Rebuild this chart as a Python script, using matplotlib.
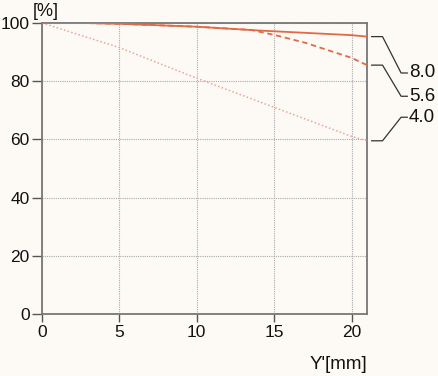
from matplotlib import pyplot as plt

x_80 = [0, 2.5, 5, 10, 14, 17, 20, 21]
y_80 = [100, 100, 99.7, 98.7, 97.4, 96.6, 95.8, 95.3]
x_56 = [0, 2.5, 5, 10, 13.5, 15, 17, 20, 21]
y_56 = [100, 100, 99.7, 98.7, 97.6, 95.9, 93.2, 88.0, 85.5]
x_40 = [0, 5, 10, 15, 20, 21]
y_40 = [100, 91.5, 81.0, 71.0, 61.0, 59.5]
labels = ["8.0", "5.6", "4.0"]
label_y = [82.8, 74.8, 67.6]

bg = "#fdfaf6"
red = "#df6a48"
plt.rcParams['font.family'] = ['Liberation Sans', 'DejaVu Sans']

fig = plt.figure(figsize=(4.38, 3.76), dpi=100, facecolor=bg)
ax = fig.add_axes([0.096, 0.165, 0.742, 0.774], facecolor=bg)

ax.plot(x_40, y_40, color="#e9a597", lw=1.1, linestyle=(0, (1, 1.5)), zorder=3)
ax.plot(x_56, y_56, color=red, lw=1.3, linestyle=(0, (3, 2)), zorder=4)
ax.plot(x_80, y_80, color=red, lw=1.3, zorder=5)

ax.set_xlim(0, 21)
ax.set_ylim(0, 100)
ax.set_xticks([0, 5, 10, 15, 20])
ax.set_yticks([0, 20, 40, 60, 80, 100])
ax.grid(True, color="#aaaaaa", linestyle=(0, (1, 1)), lw=0.8)
for s in ax.spines.values():
    s.set_color("#777777")
    s.set_linewidth(1.3)
ax.tick_params(direction="out", width=1, color="#555555",
               labelsize=12.5, labelcolor="#111111")
ax.tick_params(axis="y", length=7, pad=2)
ax.tick_params(axis="x", length=6, pad=2)
ax.text(-0.6, 101, "[%]", fontsize=13, ha="left", va="bottom", color="#111111")
ax.text(21, -14.5, "Y'[mm]", fontsize=13.5, ha="right", va="top", color="#111111",
        clip_on=False)

# leader lines to curve labels
ends = [y_80[-1], y_56[-1], y_40[-1]]
for lab, ye, yl in zip(labels, ends, label_y):
    ax.plot([21.3, 22.0, 23.2, 23.6], [ye, ye, yl, yl], color="#333333",
            lw=0.9, clip_on=False)
    ax.text(23.7, yl, lab, fontsize=13.5, va="center", ha="left", color="#111111",
            clip_on=False)

fig.savefig("out.png", dpi=100, facecolor=bg)
